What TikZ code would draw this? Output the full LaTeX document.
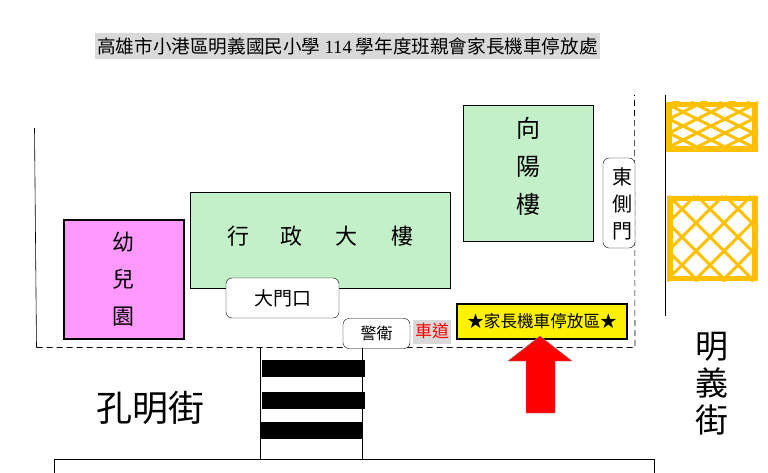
\documentclass[tikz,border=0pt]{standalone}
\usepackage{fontspec}
\setmainfont{Noto Sans CJK TC}
\newfontfamily\latinfont{Liberation Serif}
\usetikzlibrary{calc}
\definecolor{hallgreen}{RGB}{195,240,200}
\definecolor{kidspink}{RGB}{255,153,255}
\definecolor{hatchorange}{RGB}{255,192,0}
\definecolor{labelgray}{RGB}{217,217,217}
\tikzset{hall/.style={draw, fill=hallgreen, inner sep=0pt, align=center}}
\tikzset{caption/.style={inner sep=0pt, align=center}}
\tikzset{gate/.style={draw, fill=white, rounded corners=6pt, inner sep=0pt, align=center}}
\tikzset{road/.style={inner sep=0pt, align=center, font=\fontsize{36}{42}\selectfont}}
\tikzset{fence/.style={dash pattern=on 6pt off 4pt, semithick}}
\tikzset{wall/.style={semithick}}
\tikzset{stripe/.style={fill=black, inner sep=0pt, minimum height=17pt}}
\tikzset{hatchline/.style={hatchorange, line width=3pt}}
\tikzset{hatchframe/.style={draw=hatchorange, line width=5.5pt}}

\begin{document}
\begin{tikzpicture}[x=1pt,y=-1pt]
    \useasboundingbox (0,0) rectangle (768,473);

    % Title
    \node [fill=labelgray, minimum width=505pt, minimum height=26pt, inner sep=0pt,
        font=\fontsize{18.6}{20}\selectfont] (title) at (347.5,46)
        {高雄市小港區明義國民小學 {\latinfont 114} 學年度班親會家長機車停放處};

    % Site outline
    \coordinate (wall-top) at (34.5,128);
    \coordinate (corner-sw) at (36.5,347.5);
    \coordinate (corner-se) at (635,347.5);
    \coordinate (corner-ne) at (634.5,95);
    \coordinate (street-top) at (665,95);
    \coordinate (street-bottom) at (665,316);
    \draw [wall] (wall-top) -- (corner-sw);
    \draw [fence] (corner-sw) -- (corner-se) -- (corner-ne);
    \draw [wall] (street-top) -- (street-bottom);

    % Buildings
    \node [hall, minimum width=130pt, minimum height=136pt] (xiangyang) at (528,173) {};
    \node [caption, font=\fontsize{24}{38}\selectfont] (xiangyang-text) at (528,166) {向\\陽\\樓};
    \node [hall, minimum width=260pt, minimum height=96pt] (admin) at (320,240) {};
    \node [caption, font=\fontsize{22}{26}\selectfont] (admin1) at (238,236) {行};
    \node [caption, font=\fontsize{22}{26}\selectfont] (admin2) at (291,236) {政};
    \node [caption, font=\fontsize{22}{26}\selectfont] (admin3) at (346,236) {大};
    \node [caption, font=\fontsize{22}{26}\selectfont] (admin4) at (402,236) {樓};
    \node [draw, line width=2pt, fill=kidspink, minimum width=120pt, minimum height=119pt,
        inner sep=0pt, align=center, font=\fontsize{22}{37}\selectfont] (kinder) at (123.5,279) {幼\\兒\\園};

    % Gates
    \node [gate, minimum width=113pt, minimum height=40pt,
        font=\fontsize{19}{22}\selectfont] (maingate) at (282.5,298) {大門口};
    \node [gate, minimum width=67pt, minimum height=30pt,
        font=\fontsize{16}{19}\selectfont] (guard) at (376.5,333.5) {警衛};
    \node [gate, minimum width=32pt, minimum height=90pt] (eastgate) at (619,203) {};
    \node [caption, font=\fontsize{20}{27}\selectfont] (eastgate-text) at (622,204) {東\\側\\門};

    % Driveway and parking
    \node [fill=labelgray, minimum width=38pt, minimum height=24pt, inner sep=0pt,
        text=red, font=\fontsize{17}{19}\selectfont] (driveway) at (432,331.5) {車道};
    \node [draw, line width=2.2pt, fill=yellow, minimum width=170pt, minimum height=35pt,
        inner sep=0pt, font=\fontsize{16.6}{19}\selectfont] (parking) at (542,321.5) {★家長機車停放區★};
    \draw [fill=red, draw=gray] (540,336) -- (572,361) -- (555,361) -- (555,413)
        -- (526,413) -- (526,361) -- (508,361) -- cycle;

    % Crosswalk
    \coordinate (walk-nw) at (260.5,347.5);
    \coordinate (walk-ne) at (362.5,347.5);
    \coordinate (walk-sw) at (260.5,459);
    \coordinate (walk-se) at (362.5,459);
    \draw [wall] (walk-nw) -- (walk-sw);
    \draw [wall] (walk-ne) -- (walk-se);
    \node [stripe, minimum width=103pt] (stripe1) at (313.5,368.5) {};
    \node [stripe, minimum width=103pt] (stripe2) at (313.5,400) {};
    \node [stripe, minimum width=102pt] (stripe3) at (311,430.5) {};
    \draw [wall] (54.5,473) -- (54.5,459) -- (654,459) -- (654,473);

    % Streets
    \node [road] (kongming) at (150,408) {孔明街};
    \node [road, font=\fontsize{33}{37}\selectfont] (mingyi) at (712,384) {明\\義\\街};

    % Hatched blocks
    \begin{scope}
        \clip (666,102) rectangle (758,152);
        \foreach \x in {551,579,...,775} {
            \draw [hatchline] (\x,102) -- ++(120,60);
        }
        \foreach \x in {547,575,...,771} {
            \draw [hatchline] (\x,152) -- ++(120,-60);
        }
    \end{scope}
    \draw [hatchframe] (668.75,104.75) rectangle (755,149);
    \begin{scope}
        \clip (667,196) rectangle (758,281);
        \foreach \x in {557,585,...,781} {
            \draw [hatchline] (\x,196) -- ++(85,85);
        }
        \foreach \x in {554,582,...,778} {
            \draw [hatchline] (\x,281) -- ++(85,-85);
        }
    \end{scope}
    \draw [hatchframe] (669.75,198.75) rectangle (755,278.25);

\end{tikzpicture}
\end{document}
